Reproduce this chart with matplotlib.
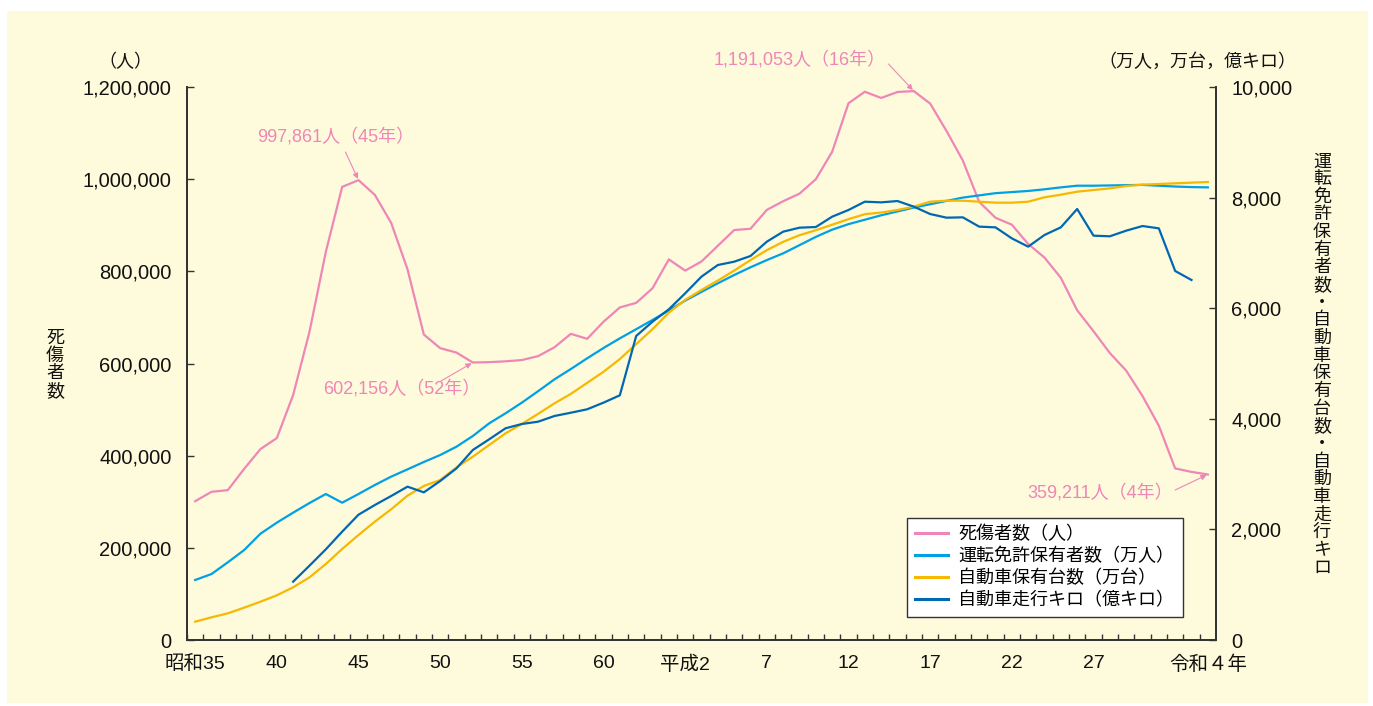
import matplotlib
matplotlib.use("Agg")
import matplotlib.pyplot as plt
from matplotlib.patches import Rectangle
from matplotlib.ticker import FixedLocator, FuncFormatter

plt.rcParams['font.family'] = ['Liberation Sans', 'Noto Sans CJK JP', 'DejaVu Sans']

# ---------------- data ----------------
years = list(range(1960, 2023))

casualties = [301211, 321562, 325258, 371390, 414435, 438150, 531679, 668995,
              842327, 983257, 997861, 965967, 905116, 804522, 662852, 633259,
              623691, 602156, 602899, 604748, 607479, 616065, 635265, 664342,
              653583, 690607, 721647, 731526, 763189, 825918, 801522, 821354,
              855455, 889575, 892376, 933361, 952147, 968567, 999889, 1059411,
              1164780, 1189712, 1176251, 1189199, 1191053, 1164050, 1104614,
              1040448, 950912, 916194, 901245, 859304, 829830, 785880, 715487,
              670140, 622757, 584544, 529378, 464990, 372315, 364767, 359211]

licenses = [1085, 1193, 1405, 1627, 1923, 2122, 2303, 2477, 2640, 2483, 2640,
            2803, 2954, 3086, 3219, 3345, 3496, 3689, 3918, 4099, 4292, 4500,
            4714, 4900, 5094, 5280, 5455, 5620, 5787, 5960, 6137, 6295, 6451,
            6600, 6740, 6870, 6992, 7140, 7290, 7420, 7520, 7600, 7680, 7750,
            7820, 7880, 7940, 8000, 8040, 8080, 8100, 8120, 8150, 8185, 8215,
            8215, 8220, 8225, 8230, 8215, 8200, 8190, 8185]

vehicles = [331, 410, 482, 585, 693, 808, 953, 1133, 1374, 1646, 1899, 2140,
            2363, 2610, 2785, 2893, 3122, 3315, 3526, 3737, 3906, 4090, 4280,
            4450, 4650, 4850, 5080, 5350, 5620, 5920, 6150, 6330, 6500, 6680,
            6870, 7050, 7200, 7320, 7410, 7510, 7610, 7700, 7730, 7776, 7836,
            7926, 7944, 7944, 7926, 7908, 7908, 7926, 8005, 8053, 8107, 8137,
            8167, 8210, 8234, 8246, 8258, 8270, 8282]

km_years = list(range(1966, 2022))
vehicle_km = [1055, 1344, 1640, 1959, 2266, 2441, 2604, 2773, 2670, 2875,
              3104, 3436, 3629, 3828, 3906, 3948, 4051, 4110, 4172, 4292,
              4425, 5497, 5756, 5980, 6269, 6571, 6781, 6841, 6944, 7203,
              7384, 7456, 7468, 7655, 7776, 7926, 7914, 7938, 7836, 7703,
              7637, 7643, 7475, 7462, 7263, 7113, 7324, 7462, 7794, 7312,
              7300, 7402, 7486, 7444, 6673, 6510]

xtick_years = [1960, 1965, 1970, 1975, 1980, 1985, 1990, 1995, 2000, 2005,
               2010, 2015, 2022]
xtick_labels = ['昭和35', '40', '45', '50', '55', '60', '平成2', '7', '12',
                '17', '22', '27', '令和４年']

series_names = ['死傷者数（人）', '運転免許保有者数（万人）',
                '自動車保有台数（万台）', '自動車走行キロ（億キロ）']

# annotation values (text, point year, point value)
notes = [('997,861人（45年）', 1970, 997861),
         ('602,156人（52年）', 1977, 602156),
         ('1,191,053人（16年）', 2004, 1191053),
         ('359,211人（4年）', 2022, 359211)]

# ---------------- style ----------------
W, H = 1373, 706
BG = '#FEFBDC'
PINK = '#EE86B6'
LBLUE = '#00A0E4'
YELLOW = '#F6B800'
DBLUE = '#0068B3'
AXC = '#333333'
TXT = '#111111'

fig = plt.figure(figsize=(W / 100, H / 100), dpi=100, facecolor='white')
bgrect = Rectangle((7 / W, 3 / H), (W - 12) / W, (H - 14) / H,
                   transform=fig.transFigure, facecolor=BG,
                   edgecolor='none', zorder=-10)
fig.patches.append(bgrect)

L, R, T, B = 187, 1216, 87, 640
ax = fig.add_axes([L / W, (H - B) / H, (R - L) / W, (B - T) / H])
ax.set_facecolor('none')
ax2 = ax.twinx()
ax2.set_facecolor('none')

lw = 1.6
ax.plot(years, casualties, color=PINK, lw=lw, zorder=3)
ax2.plot(years, licenses, color=LBLUE, lw=lw, zorder=3)
ax2.plot(years, vehicles, color=YELLOW, lw=lw, zorder=4)
ax2.plot(km_years, vehicle_km, color=DBLUE, lw=lw, zorder=5)

ax.set_xlim(1959.5, 2022.5)
ax.set_ylim(0, 1200000)
ax2.set_ylim(0, 10000)

fs = 13
tfs = 14.5
ax.set_yticks(range(0, 1200001, 200000))
ax.yaxis.set_major_formatter(FuncFormatter(lambda v, p: f'{int(v):,}'))
ax2.set_yticks(range(0, 10001, 2000))
ax2.yaxis.set_major_formatter(FuncFormatter(lambda v, p: f'{int(v):,}'))

ax.set_xticks(xtick_years)
ax.set_xticklabels(xtick_labels)
ax.xaxis.set_minor_locator(FixedLocator([y + 0.5 for y in range(1959, 2022)]))
ax.tick_params(axis='x', which='major', length=0, pad=11, labelsize=14,
               colors=TXT)
ax.tick_params(axis='x', which='minor', direction='in', length=4.5,
               width=1.0, color=AXC)
ax.tick_params(axis='y', direction='in', length=5, width=1.0, color=AXC,
               labelsize=tfs, labelcolor=TXT, pad=11)
ax2.tick_params(axis='y', direction='in', length=5, width=1.0, color=AXC,
                labelsize=tfs, labelcolor=TXT, pad=11)

for a in (ax, ax2):
    a.spines['top'].set_visible(False)
    for s in ('left', 'right', 'bottom'):
        a.spines[s].set_color(AXC)
        a.spines[s].set_linewidth(1.3)

# axis titles
fig.text(125 / W, 1 - 62 / H, '（人）', ha='center', va='center',
         fontsize=fs, color=TXT)
fig.text(1197 / W, 1 - 62 / H, '（万人，万台，億キロ）', ha='center',
         va='center', fontsize=fs, color=TXT)
fig.text(55 / W, 1 - 365 / H, '\n'.join('死傷者数'), ha='center', va='center',
         fontsize=fs, color=TXT, linespacing=1.05)
fig.text(1322 / W, 1 - 365 / H, '\n'.join('運転免許保有者数・自動車保有台数・自動車走行キロ'),
         ha='center', va='center', fontsize=fs, color=TXT,
         linespacing=1.05)

# annotations (text position, arrow tail in data units)
text_pos = [(1968.6, 1091500), (1972.66, 544700), (1997.0, 1258600),
            (2015.4, 319000)]
tails = [(1969.2, 1059000), (1975.05, 562000), (2002.45, 1249900),
         (2020.0, 325500)]
for (txt, yr, val), (tx, ty), (ax_, ay_) in zip(notes, text_pos, tails):
    ax.text(tx, ty, txt, ha='center', va='center', fontsize=fs, color=PINK,
            clip_on=False, zorder=6)
    ax.annotate('', xy=(yr, val), xytext=(ax_, ay_),
                arrowprops=dict(arrowstyle='-|>', color=PINK, lw=0.8,
                                mutation_scale=8, shrinkA=0, shrinkB=1),
                annotation_clip=False, zorder=6)

# legend
handles = [plt.Line2D([], [], color=c, lw=2.2) for c in (PINK, LBLUE, YELLOW, DBLUE)]
leg = ax2.legend(handles, series_names, loc='lower left',
                 bbox_to_anchor=(0.6997, 0.0416), fontsize=fs, frameon=True,
                 fancybox=False, edgecolor=AXC, facecolor='white',
                 framealpha=1.0, handlelength=1.8, handletextpad=0.6,
                 labelspacing=0.25, borderpad=0.45, borderaxespad=0)
leg.get_frame().set_linewidth(1.0)
leg.set_zorder(10)

fig.savefig('out.png', dpi=100, facecolor=fig.get_facecolor())
